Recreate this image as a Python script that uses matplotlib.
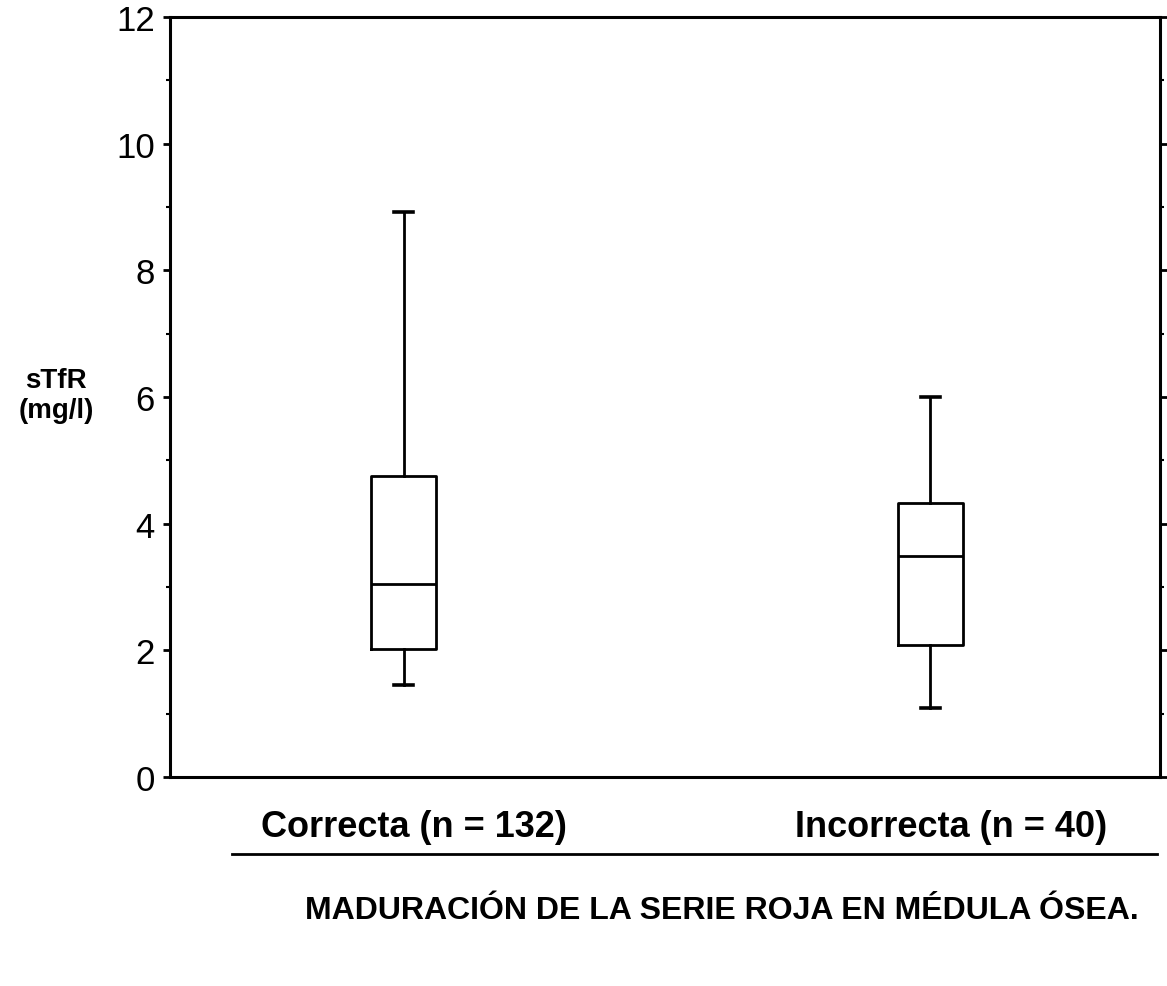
import matplotlib
matplotlib.use("Agg")
import matplotlib.pyplot as plt
from matplotlib.lines import Line2D
from matplotlib.ticker import MultipleLocator

# Data
groups = ["Correcta (n = 132)", "Incorrecta (n = 40)"]
whisker_low = [1.45, 1.09]
q1 = [2.02, 2.08]
median = [3.05, 3.49]
q3 = [4.75, 4.33]
whisker_high = [8.92, 6.0]
y_ticks = [0, 2, 4, 6, 8, 10, 12]
y_label = "sTfR\n(mg/l)"
x_title = "MADURACIÓN DE LA SERIE ROJA EN MÉDULA ÓSEA."

plt.rcParams['font.family'] = ['Liberation Sans', 'DejaVu Sans']

fig = plt.figure(figsize=(11.67, 9.87), dpi=100)
ax = fig.add_axes([0.1457, 0.2117, 0.994 - 0.1457, 0.9818 - 0.2117])

stats = []
for i in range(len(groups)):
    stats.append(dict(whislo=whisker_low[i], q1=q1[i], med=median[i],
                      q3=q3[i], whishi=whisker_high[i], fliers=[], label=groups[i]))

positions = [1, 2]
lw = 2.0
ax.bxp(stats, positions=positions, widths=0.123, capwidths=0.036,
       showfliers=False,
       boxprops=dict(color='black', linewidth=lw),
       medianprops=dict(color='black', linewidth=lw),
       whiskerprops=dict(color='black', linewidth=lw),
       capprops=dict(color='black', linewidth=lw * 1.3))

ax.set_xlim(0.556, 2.436)
ax.set_ylim(0, 12)
ax.set_yticks(y_ticks)
ax.set_yticklabels([str(t) for t in y_ticks], fontsize=25)
ax.yaxis.set_minor_locator(MultipleLocator(1))
ax.tick_params(axis='y', which='major', direction='out', length=5, width=2,
               right=True, left=True, pad=6)
ax.tick_params(axis='y', which='minor', direction='out', length=3, width=1.5,
               right=True, left=True)
ax.set_xticks([])
for s in ax.spines.values():
    s.set_linewidth(2.2)

# y label
fig.text(56 / 1167, 1 - 396 / 987, y_label, ha='center', va='center',
         fontsize=20, fontweight='bold', linespacing=1.2)

# group labels below the plot
label_x_px = [414, 951]
for lab, xp in zip(groups, label_x_px):
    fig.text(xp / 1167, 1 - 828 / 987, lab, ha='center', va='center',
             fontsize=26, fontweight='bold')

fig.add_artist(Line2D([232 / 1167, 1157 / 1167], [1 - 855 / 987, 1 - 855 / 987],
                      transform=fig.transFigure, color='black', linewidth=2))

fig.text(722 / 1167, 1 - 911 / 987, x_title, ha='center', va='center',
         fontsize=23, fontweight='bold')

fig.savefig("out.png", dpi=100)
